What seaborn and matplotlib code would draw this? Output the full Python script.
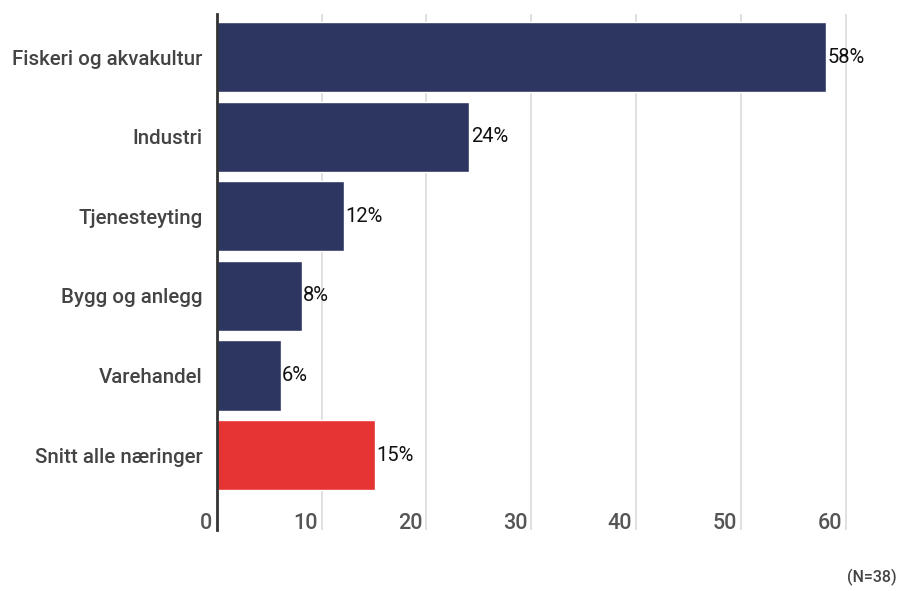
import pandas as pd
import seaborn as sns
import matplotlib.pyplot as plt
from matplotlib.transforms import ScaledTranslation

categories = ["Fiskeri og akvakultur", "Industri", "Tjenesteyting",
              "Bygg og anlegg", "Varehandel", "Snitt alle næringer"]
values = [58.1, 24.1, 12.1, 8.1, 6.1, 15.1]
labels = ["58%", "24%", "12%", "8%", "6%", "15%"]
colors = ["#2d3661", "#2d3661", "#2d3661", "#2d3661", "#2d3661", "#e53433"]
xticks = [0, 10, 20, 30, 40, 50, 60]

df = pd.DataFrame({"kategori": categories, "verdi": values})

sns.set_style("white")
plt.rcParams["font.family"] = ["Roboto", "DejaVu Sans"]
plt.rcParams["font.weight"] = "medium"

fig = plt.figure(figsize=(8.98, 5.91), dpi=100)
ax = fig.add_axes([0.2412, 0.1032, 0.7243, 0.8731])

sns.barplot(data=df, x="verdi", y="kategori", hue="kategori",
            palette=colors, saturation=1, legend=False, width=0.88,
            ax=ax, zorder=3)

for cont, lab in zip(ax.containers, labels):
    ax.bar_label(cont, labels=[lab], padding=1, fontsize=14.5,
                 fontweight="normal", color="#111111")

ax.set_xlim(0, 62)
ax.set_ylim(5.94, -0.54)
ax.set_xticks(xticks)
ax.set_xlabel("")
ax.set_ylabel("")
ax.grid(axis="x", color="#dddddd", linewidth=1.3, zorder=0)

for s in ["top", "right", "bottom"]:
    ax.spines[s].set_visible(False)
ax.spines["left"].set_color("#333333")
ax.spines["left"].set_linewidth(2)
ax.spines["left"].set_zorder(5)

ax.tick_params(axis="y", length=0, pad=10, labelsize=14.8, labelcolor="#444444")
ax.tick_params(axis="x", length=0, direction="in", pad=-12, labelsize=15.5,
               labelcolor="#555555")
off = ScaledTranslation(-3 / 72, 0, fig.dpi_scale_trans)
for lbl in ax.get_xticklabels():
    lbl.set_horizontalalignment("right")
    lbl.set_transform(lbl.get_transform() + off)

fig.text(0.998, 0.008, "(N=38)", ha="right", va="bottom", fontsize=11.5,
         color="#444444")

fig.savefig("out.png", dpi=100)
